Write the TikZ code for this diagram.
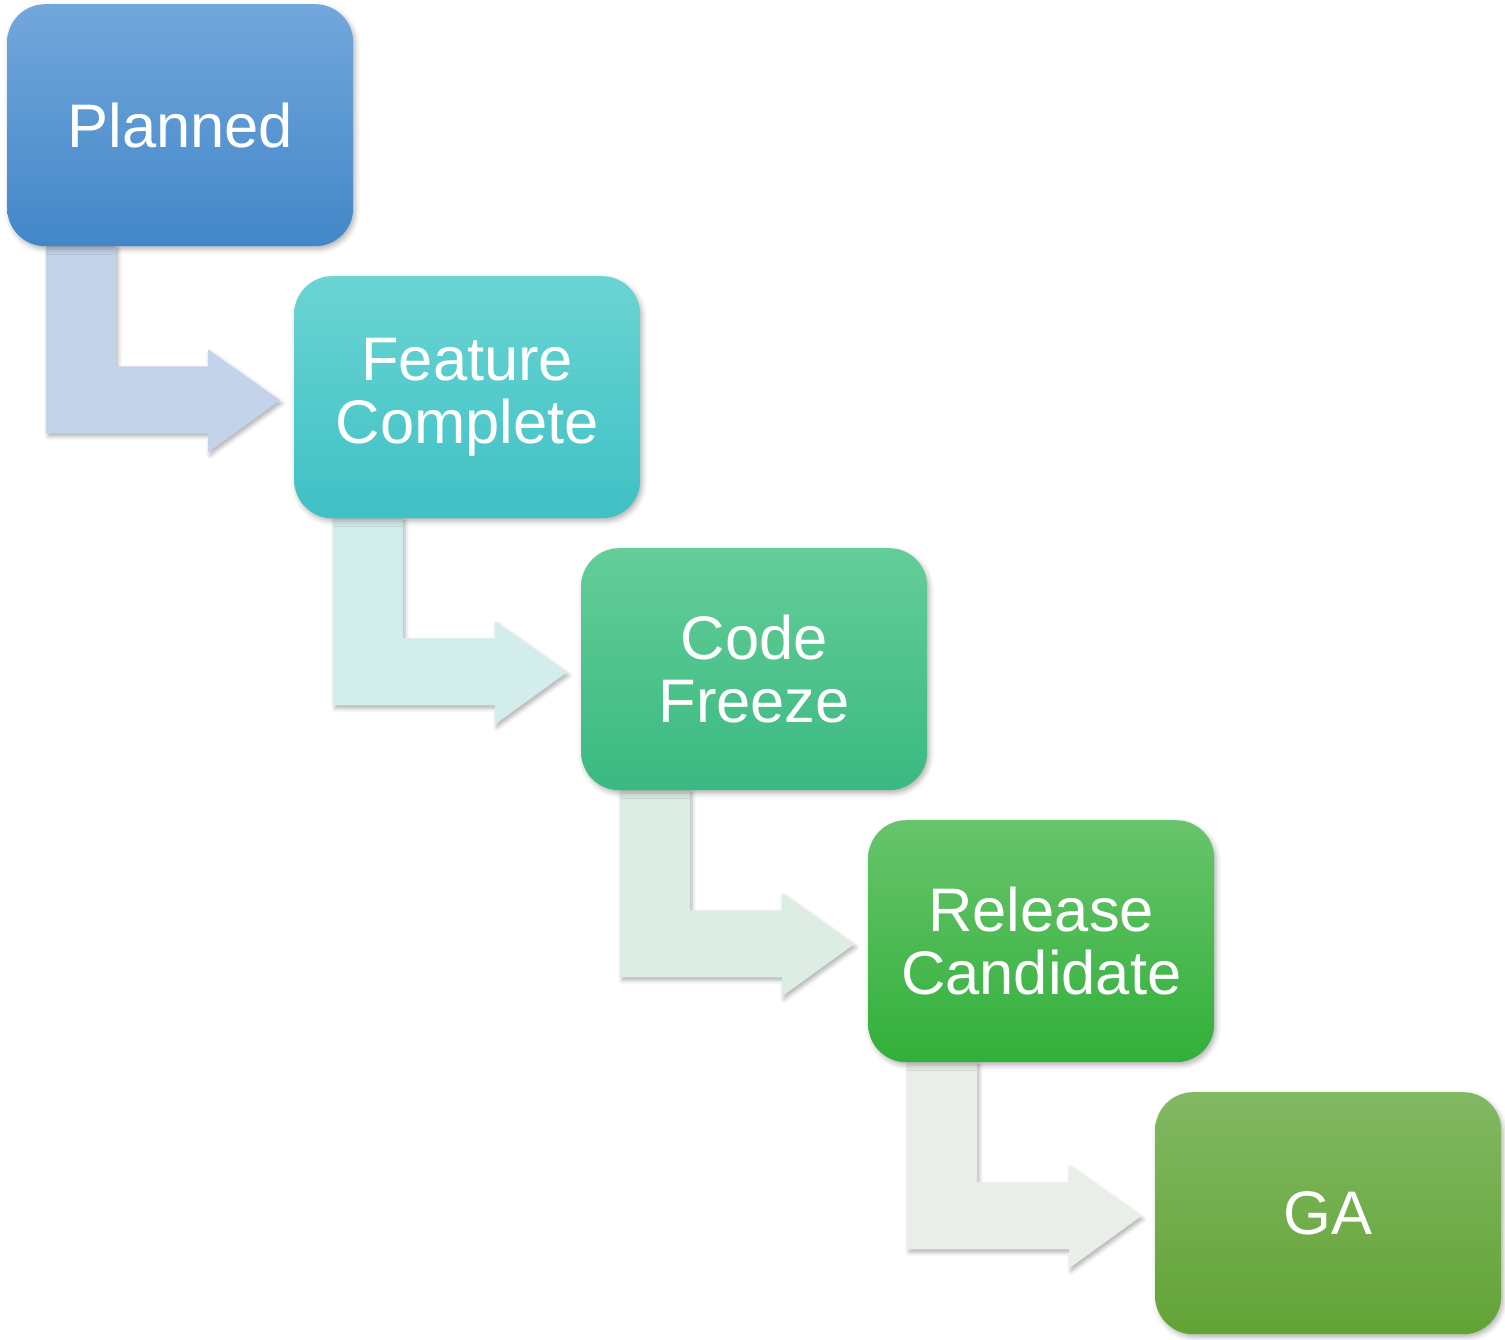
\documentclass[tikz,border=0pt]{standalone}
\usepackage{fontspec}
\setmainfont{Liberation Sans}
\usetikzlibrary{calc,shadows.blur}
\pgfdeclarelayer{background}
\pgfsetlayers{background,main}
\definecolor{pTop}{HTML}{72A7DC}\definecolor{pBot}{HTML}{4287C8}
\definecolor{fTop}{HTML}{6AD4D3}\definecolor{fBot}{HTML}{3FC1C5}
\definecolor{cTop}{HTML}{64CD98}\definecolor{cBot}{HTML}{3AB981}
\definecolor{rTop}{HTML}{68C46C}\definecolor{rBot}{HTML}{32B03A}
\definecolor{gTop}{HTML}{82B862}\definecolor{gBot}{HTML}{62A335}
\definecolor{aOne}{HTML}{C3D3EA}\definecolor{aTwo}{HTML}{D3ECEC}
\definecolor{aThree}{HTML}{DDEDE3}\definecolor{aFour}{HTML}{EAEEE8}
\tikzset{
  stagebox/.style={rectangle, rounded corners=38pt, minimum width=346pt, minimum height=242pt,
    anchor=north west, align=center, text=white, inner sep=0pt,
    font=\fontsize{61.5}{63.5}\selectfont,
    blur shadow={shadow xshift=2pt, shadow yshift=-3pt, shadow blur radius=5pt, shadow opacity=30}},
  arrowshape/.style={blur shadow={shadow xshift=2pt, shadow yshift=-3pt, shadow blur radius=4pt, shadow opacity=30}}
}
\newcommand\stagearrow[2]{%
  \fill[#2, arrowshape] ($(#1.south west)+(39,-1)$) -- ++(70,0) -- ++(0,121) -- ++(92,0)
    -- ++(0,-17) -- ++(72,51) -- ++(-72,52) -- ++(0,-19) -- ++(-162,0) -- cycle;}
\begin{document}
\begin{tikzpicture}[x=1pt,y=-1pt]
\useasboundingbox (0,0) rectangle (1505,1340);
\node[stagebox, top color=pTop, bottom color=pBot] (planned) at (7,4) {Planned};
\node[stagebox, top color=fTop, bottom color=fBot] (feature) at (294,276) {Feature\\Complete};
\node[stagebox, top color=cTop, bottom color=cBot] (freeze) at (581,548) {Code\\Freeze};
\node[stagebox, top color=rTop, bottom color=rBot] (release) at (868,820) {Release\\Candidate};
\node[stagebox, top color=gTop, bottom color=gBot] (ga) at (1155,1092) {GA};
\begin{pgfonlayer}{background}
\stagearrow{planned}{aOne}
\stagearrow{feature}{aTwo}
\stagearrow{freeze}{aThree}
\stagearrow{release}{aFour}
\end{pgfonlayer}
\end{tikzpicture}
\end{document}
